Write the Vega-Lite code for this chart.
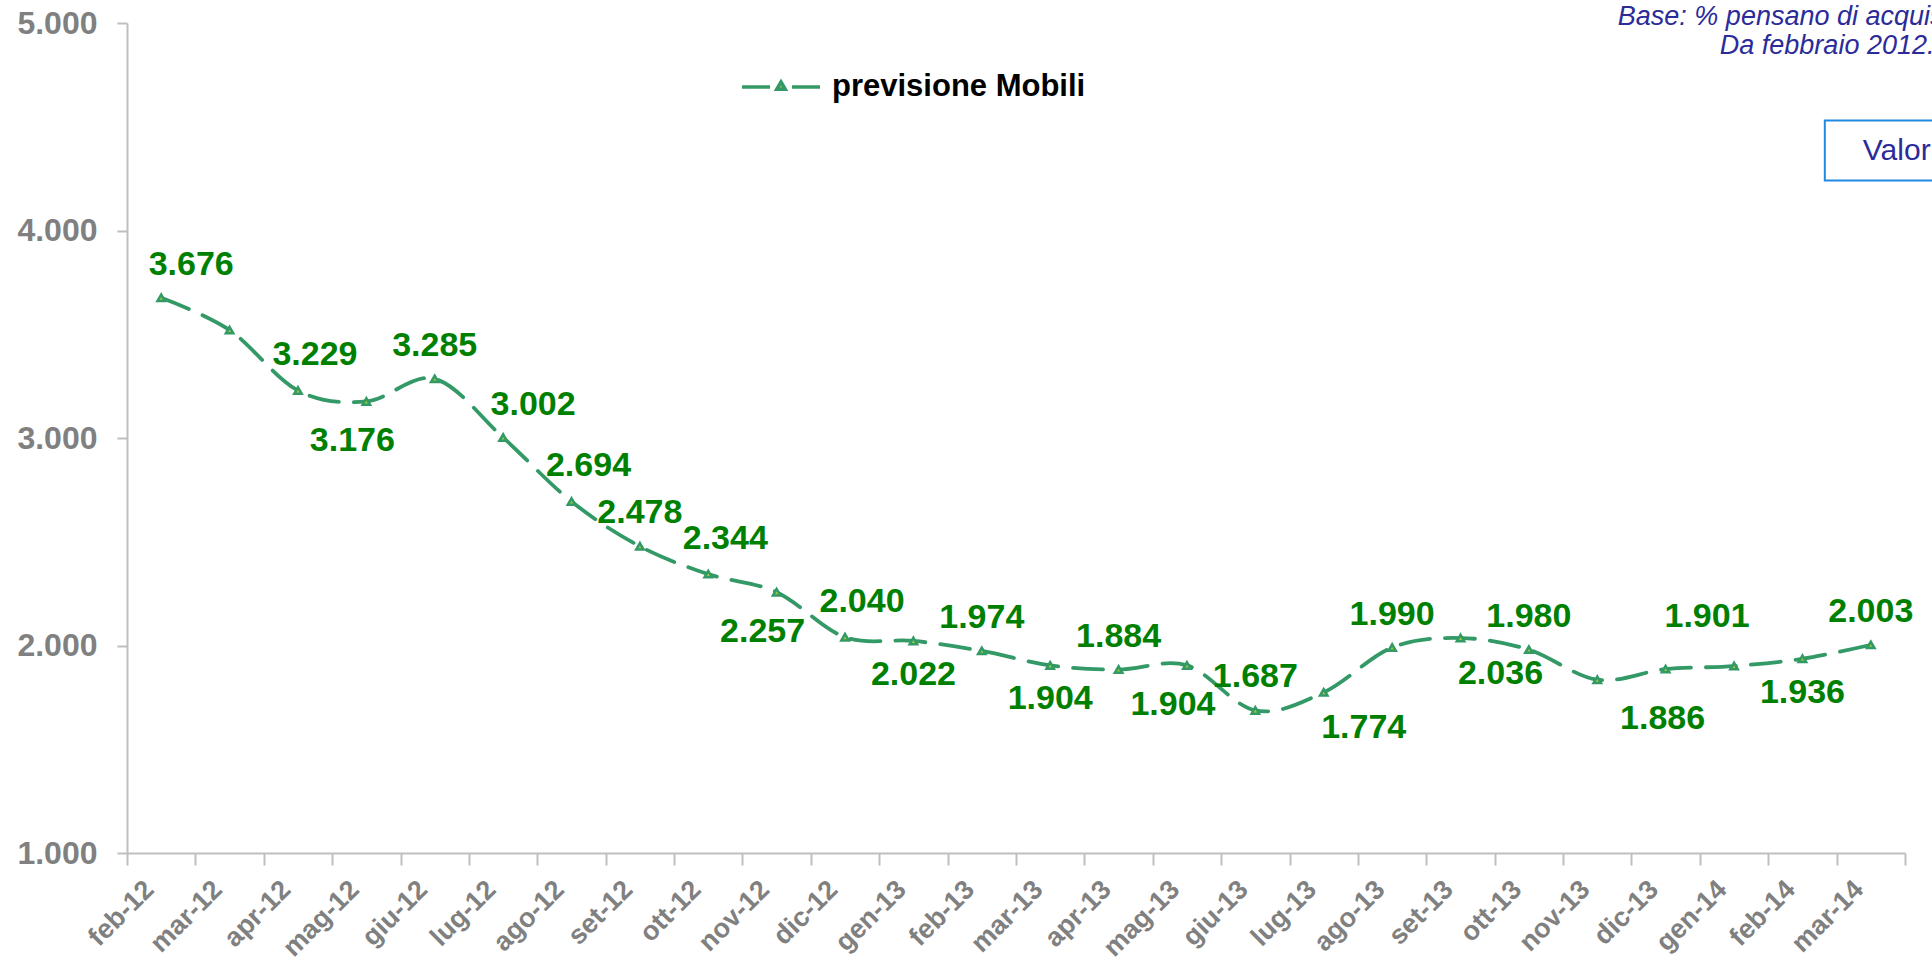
{
  "$schema": "https://vega.github.io/schema/vega-lite/v6.json",
  "width": 1778,
  "height": 830,
  "autosize": {"type": "none"},
  "padding": {"left": 127, "top": 23, "right": 27, "bottom": 116},
  "background": "white",
  "config": {"view": {"stroke": null}, "font": "Liberation Sans"},
  "data": {"values": [
    {"mese": "feb-12", "valore": 3676, "serie": "previsione Mobili"},
    {"mese": "mar-12", "valore": 3520, "serie": "previsione Mobili"},
    {"mese": "apr-12", "valore": 3229, "serie": "previsione Mobili"},
    {"mese": "mag-12", "valore": 3176, "serie": "previsione Mobili"},
    {"mese": "giu-12", "valore": 3285, "serie": "previsione Mobili"},
    {"mese": "lug-12", "valore": 3002, "serie": "previsione Mobili"},
    {"mese": "ago-12", "valore": 2694, "serie": "previsione Mobili"},
    {"mese": "set-12", "valore": 2478, "serie": "previsione Mobili"},
    {"mese": "ott-12", "valore": 2344, "serie": "previsione Mobili"},
    {"mese": "nov-12", "valore": 2257, "serie": "previsione Mobili"},
    {"mese": "dic-12", "valore": 2040, "serie": "previsione Mobili"},
    {"mese": "gen-13", "valore": 2022, "serie": "previsione Mobili"},
    {"mese": "feb-13", "valore": 1974, "serie": "previsione Mobili"},
    {"mese": "mar-13", "valore": 1904, "serie": "previsione Mobili"},
    {"mese": "apr-13", "valore": 1884, "serie": "previsione Mobili"},
    {"mese": "mag-13", "valore": 1904, "serie": "previsione Mobili"},
    {"mese": "giu-13", "valore": 1687, "serie": "previsione Mobili"},
    {"mese": "lug-13", "valore": 1774, "serie": "previsione Mobili"},
    {"mese": "ago-13", "valore": 1990, "serie": "previsione Mobili"},
    {"mese": "set-13", "valore": 2036, "serie": "previsione Mobili"},
    {"mese": "ott-13", "valore": 1980, "serie": "previsione Mobili"},
    {"mese": "nov-13", "valore": 1835, "serie": "previsione Mobili"},
    {"mese": "dic-13", "valore": 1886, "serie": "previsione Mobili"},
    {"mese": "gen-14", "valore": 1901, "serie": "previsione Mobili"},
    {"mese": "feb-14", "valore": 1936, "serie": "previsione Mobili"},
    {"mese": "mar-14", "valore": 2003, "serie": "previsione Mobili"}
  ]},
  "encoding": {
    "x": {
      "field": "mese", "type": "ordinal", "sort": null,
      "scale": {"type": "band", "paddingInner": 0, "paddingOuter": 0},
      "axis": {
        "title": null, "grid": false,
        "domainColor": "#BFBFBF", "domainWidth": 2,
        "tickBand": "extent", "tickColor": "#BFBFBF", "tickWidth": 2, "tickSize": 12,
        "labelAngle": -45, "labelAlign": "right", "labelBaseline": "middle",
        "labelColor": "#808080", "labelFont": "Liberation Sans", "labelFontWeight": "bold",
        "labelFontSize": 27, "labelPadding": 20, "labelOffset": -12, "labelOverlap": false
      }
    },
    "y": {
      "field": "valore", "type": "quantitative",
      "scale": {"domain": [1000, 5000], "nice": false, "zero": false},
      "axis": {
        "title": null, "grid": false,
        "values": [1000, 2000, 3000, 4000, 5000],
        "domainColor": "#BFBFBF", "domainWidth": 2,
        "tickColor": "#BFBFBF", "tickWidth": 2, "tickSize": 10,
        "labelColor": "#808080", "labelFont": "Liberation Sans", "labelFontWeight": "bold",
        "labelFontSize": 32, "labelPadding": 20,
        "labelExpr": "replace(format(datum.value, ',.0f'), ',', '.')"
      }
    }
  },
  "layer": [
    {
      "mark": {"type": "line", "interpolate": "cardinal", "strokeDash": [30, 15], "strokeWidth": 3.8, "strokeCap": "round"},
      "encoding": {
        "color": {
          "field": "serie", "type": "nominal",
          "scale": {"range": ["#339966"]},
          "legend": {
            "title": null, "orient": "none", "legendX": 613, "legendY": 23,
            "symbolType": "M-1,0H-0.28M0.28,0H1M0,-0.13L0.11,0.06L-0.11,0.06Z",
            "symbolSize": 6084, "symbolStrokeWidth": 3.5, "symbolStrokeColor": "#339966", "symbolFillColor": "#9ACD32",
            "labelFont": "Liberation Sans", "labelFontSize": 31, "labelFontWeight": "bold", "labelColor": "#000000",
            "labelOffset": 10, "padding": 0, "labelLimit": 600
          }
        }
      }
    },
    {
      "mark": {"type": "point", "shape": "triangle-up", "filled": true, "fill": "#9ACD32", "stroke": "#339966", "strokeWidth": 2.5, "size": 55, "opacity": 1}
    },
    {
      "transform": [
        {"filter": {"field": "mese", "oneOf": ["giu-12", "set-12", "feb-13", "apr-13", "giu-13", "ago-13", "ott-13", "mar-14"]}},
        {"calculate": "replace(format(datum.valore, ',.0f'), ',', '.')", "as": "etichetta"}
      ],
      "mark": {"type": "text", "font": "Liberation Sans", "fontWeight": "bold", "fontSize": 34, "color": "#008000", "align": "center", "baseline": "middle", "dx": 0, "dy": -33},
      "encoding": {"text": {"field": "etichetta"}}
    },
    {
      "transform": [
        {"filter": {"field": "mese", "oneOf": ["apr-12", "ago-12", "ott-12", "dic-12"]}},
        {"calculate": "replace(format(datum.valore, ',.0f'), ',', '.')", "as": "etichetta"}
      ],
      "mark": {"type": "text", "font": "Liberation Sans", "fontWeight": "bold", "fontSize": 34, "color": "#008000", "align": "center", "baseline": "middle", "dx": 17, "dy": -35},
      "encoding": {"text": {"field": "etichetta"}}
    },
    {
      "transform": [
        {"filter": {"field": "mese", "oneOf": ["feb-12", "lug-12"]}},
        {"calculate": "replace(format(datum.valore, ',.0f'), ',', '.')", "as": "etichetta"}
      ],
      "mark": {"type": "text", "font": "Liberation Sans", "fontWeight": "bold", "fontSize": 34, "color": "#008000", "align": "center", "baseline": "middle", "dx": 30, "dy": -33},
      "encoding": {"text": {"field": "etichetta"}}
    },
    {
      "transform": [
        {"filter": {"field": "mese", "oneOf": ["gen-14"]}},
        {"calculate": "replace(format(datum.valore, ',.0f'), ',', '.')", "as": "etichetta"}
      ],
      "mark": {"type": "text", "font": "Liberation Sans", "fontWeight": "bold", "fontSize": 34, "color": "#008000", "align": "center", "baseline": "middle", "dx": -27, "dy": -49},
      "encoding": {"text": {"field": "etichetta"}}
    },
    {
      "transform": [
        {"filter": {"field": "mese", "oneOf": ["gen-13", "mar-13", "feb-14"]}},
        {"calculate": "replace(format(datum.valore, ',.0f'), ',', '.')", "as": "etichetta"}
      ],
      "mark": {"type": "text", "font": "Liberation Sans", "fontWeight": "bold", "fontSize": 34, "color": "#008000", "align": "center", "baseline": "middle", "dx": 0, "dy": 34},
      "encoding": {"text": {"field": "etichetta"}}
    },
    {
      "transform": [
        {"filter": {"field": "mese", "oneOf": ["mag-12", "mag-13", "nov-12"]}},
        {"calculate": "replace(format(datum.valore, ',.0f'), ',', '.')", "as": "etichetta"}
      ],
      "mark": {"type": "text", "font": "Liberation Sans", "fontWeight": "bold", "fontSize": 34, "color": "#008000", "align": "center", "baseline": "middle", "dx": -14, "dy": 40},
      "encoding": {"text": {"field": "etichetta"}}
    },
    {
      "transform": [
        {"filter": {"field": "mese", "oneOf": ["dic-13"]}},
        {"calculate": "replace(format(datum.valore, ',.0f'), ',', '.')", "as": "etichetta"}
      ],
      "mark": {"type": "text", "font": "Liberation Sans", "fontWeight": "bold", "fontSize": 34, "color": "#008000", "align": "center", "baseline": "middle", "dx": -3, "dy": 50},
      "encoding": {"text": {"field": "etichetta"}}
    },
    {
      "transform": [
        {"filter": {"field": "mese", "oneOf": ["lug-13", "set-13"]}},
        {"calculate": "replace(format(datum.valore, ',.0f'), ',', '.')", "as": "etichetta"}
      ],
      "mark": {"type": "text", "font": "Liberation Sans", "fontWeight": "bold", "fontSize": 34, "color": "#008000", "align": "center", "baseline": "middle", "dx": 40, "dy": 36},
      "encoding": {"text": {"field": "etichetta"}}
    },
    {
      "transform": [{"filter": {"field": "mese", "equal": "mar-14"}}],
      "mark": {"type": "text", "font": "Liberation Sans", "fontStyle": "italic", "fontSize": 27, "color": "#2B2B99", "align": "left", "baseline": "middle", "dx": -253, "dy": -6},
      "encoding": {"y": {"datum": 5000, "type": "quantitative"}, "text": {"value": "Base: % pensano di acquistare"}}
    },
    {
      "transform": [{"filter": {"field": "mese", "equal": "mar-14"}}],
      "mark": {"type": "text", "font": "Liberation Sans", "fontStyle": "italic", "fontSize": 27, "color": "#2B2B99", "align": "left", "baseline": "middle", "dx": -151, "dy": 23},
      "encoding": {"y": {"datum": 5000, "type": "quantitative"}, "text": {"value": "Da febbraio 2012..."}}
    },
    {
      "transform": [{"filter": {"field": "mese", "equal": "mar-14"}}],
      "mark": {"type": "point", "shape": "M-1,-1H6V1H-1Z", "filled": false, "stroke": "#1F8AE0", "strokeWidth": 2, "size": 3600, "xOffset": -16, "opacity": 1},
      "encoding": {"y": {"datum": 4385, "type": "quantitative"}}
    },
    {
      "transform": [{"filter": {"field": "mese", "equal": "mar-14"}}],
      "mark": {"type": "text", "font": "Liberation Sans", "fontSize": 30, "color": "#2B2B99", "align": "left", "baseline": "middle", "dx": -8, "dy": 0},
      "encoding": {"y": {"datum": 4385, "type": "quantitative"}, "text": {"value": "Valori assoluti"}}
    }
  ]
}
